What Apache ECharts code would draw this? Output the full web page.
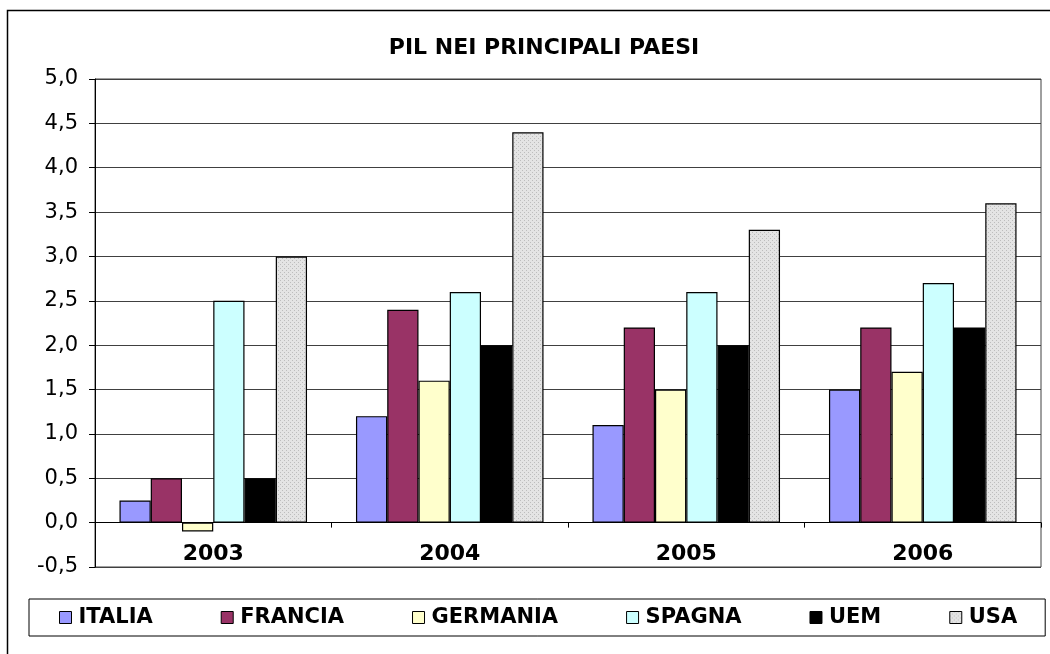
<!DOCTYPE html>
<html>
<head>
<meta charset="utf-8">
<script src="https://cdn.jsdelivr.net/npm/echarts@6/dist/echarts.min.js"></script>
<style>
html,body{margin:0;padding:0;background:#fff;}
#chart{width:1050px;height:654px;}
</style>
</head>
<body>
<div id="chart"></div>
<script>
const categories = ['2003', '2004', '2005', '2006'];
const seriesNames = ['ITALIA', 'FRANCIA', 'GERMANIA', 'SPAGNA', 'UEM', 'USA'];
const italia   = [0.25, 1.2, 1.1, 1.5];
const francia  = [0.5, 2.4, 2.2, 2.2];
const germania = [-0.1, 1.6, 1.5, 1.7];
const spagna   = [2.5, 2.6, 2.6, 2.7];
const uem      = [0.5, 2.0, 2.0, 2.2];
const usa      = [3.0, 4.4, 3.3, 3.6];
const yMin = -0.5, yMax = 5.0, yStep = 0.5;

const values = [italia, francia, germania, spagna, uem, usa];

// dotted grey pattern for USA
const pc = document.createElement('canvas');
pc.width = 4; pc.height = 4;
const pctx = pc.getContext('2d');
pctx.fillStyle = '#e4e4e4';
pctx.fillRect(0, 0, 4, 4);
pctx.fillStyle = '#bdbdbd';
pctx.fillRect(0, 0, 1, 1);
pctx.fillRect(2, 2, 1, 1);
const usaPattern = { image: pc, repeat: 'repeat' };

const colors = ['#9999FF', '#993366', '#FFFFCC', '#CCFFFF', '#000000', usaPattern];
const font = 'Verdana, "DejaVu Sans", sans-serif';

const chart = echarts.init(document.getElementById('chart'), null, { renderer: 'canvas' });
chart.setOption({
  animation: false,
  backgroundColor: '#fff',
  title: {
    text: 'PIL NEI PRINCIPALI PAESI',
    left: 539, textAlign: 'center', top: 32,
    textStyle: { fontFamily: font, fontSize: 22, fontWeight: 'bold', color: '#000' }
  },
  graphic: [{
    type: 'rect', shape: { x: 7.5, y: 10.5, width: 1060, height: 660 },
    style: { fill: 'none', stroke: '#000', lineWidth: 1.5 }, silent: true, z: 100
  }],
  grid: { left: 95, right: 9, top: 79, bottom: 87, show: true, borderColor: '#404040', borderWidth: 1, backgroundColor: 'transparent' },
  legend: {
    data: seriesNames,
    left: 29, top: 599,
    padding: [8, 28, 8, 30],
    borderColor: '#000', borderWidth: 1,
    itemGap: 68, itemWidth: 12, itemHeight: 12,
    icon: 'rect',
    textStyle: { fontFamily: font, fontSize: 21, fontWeight: 'bold', color: '#000', padding: [0, 0, 0, 2] },
    itemStyle: { borderColor: '#000', borderWidth: 1 }
  },
  xAxis: {
    type: 'category', data: categories,
    axisLine: { onZero: true, lineStyle: { color: '#000', width: 1 } },
    axisTick: { show: true, length: 5, alignWithLabel: false, lineStyle: { color: '#000' } },
    axisLabel: { fontFamily: font, fontSize: 22, fontWeight: 'bold', color: '#000', margin: -24 },
    splitLine: { show: false }
  },
  yAxis: {
    type: 'value', min: yMin, max: yMax, interval: yStep,
    axisLine: { show: true, lineStyle: { color: '#000' } },
    axisTick: { show: true, length: 6, lineStyle: { color: '#000' } },
    axisLabel: { fontFamily: font, fontSize: 21, color: '#000', margin: 17,
      formatter: v => v.toFixed(1).replace('.', ',') },
    splitLine: { show: true, lineStyle: { color: '#404040', width: 1 } }
  },
  series: seriesNames.map((n, i) => ({
    name: n, type: 'bar', data: values[i],
    barGap: '0%', barCategoryGap: '20.7%',
    itemStyle: { color: colors[i], borderColor: '#000', borderWidth: 1.2 }
  }))
});
</script>
</body>
</html>
